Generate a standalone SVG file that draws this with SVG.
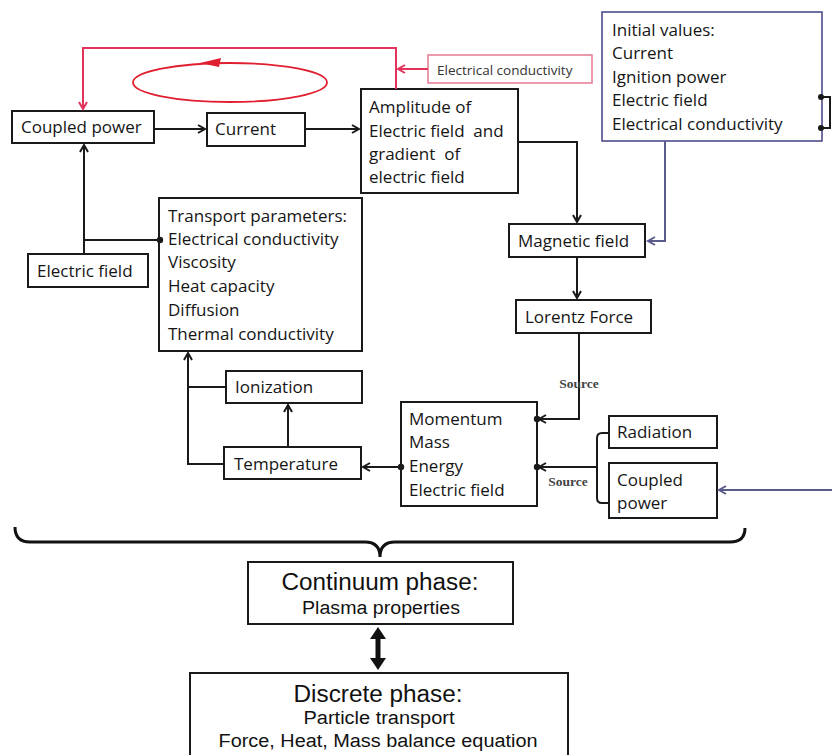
<svg xmlns="http://www.w3.org/2000/svg" width="832" height="755" viewBox="0 0 832 755">
<style>
.box{fill:#fff;stroke:#1a1a1a;stroke-width:2}
.t{font-family:"Open Sans","Liberation Sans",sans-serif;font-size:17px;fill:#151515}
.c{fill:none;stroke:#1a1a1a;stroke-width:2}
.blue{fill:none;stroke:#5a5a8c;stroke-width:2}
.red{fill:none;stroke:#e2335a;stroke-width:2}
.src{font-family:"Liberation Serif",serif;font-size:13.5px;font-weight:bold;fill:#444}
.big{font-family:"Liberation Sans",Arial,sans-serif;fill:#111;text-anchor:middle}
</style>
<defs>
<marker id="ab" markerWidth="10" markerHeight="10" refX="8" refY="5" orient="auto" markerUnits="userSpaceOnUse"><path d="M1,1 L8,5 L1,9" fill="none" stroke="#1a1a1a" stroke-width="2"/></marker>
<marker id="abl" markerWidth="10" markerHeight="10" refX="8" refY="5" orient="auto" markerUnits="userSpaceOnUse"><path d="M1,1 L8,5 L1,9" fill="none" stroke="#5a5a8c" stroke-width="2"/></marker>
<marker id="ar" markerWidth="10" markerHeight="10" refX="8" refY="5" orient="auto" markerUnits="userSpaceOnUse"><path d="M1,1 L8,5 L1,9" fill="none" stroke="#e2335a" stroke-width="2"/></marker>
</defs>
<rect width="832" height="755" fill="#fff"/>

<g id="n-coupled-power">
<rect class="box" x="12" y="111" width="142" height="32"/>
<text class="t" x="21" y="133">Coupled power</text>
</g>
<g id="n-current">
<rect class="box" x="207" y="113" width="98" height="33"/>
<text class="t" x="215" y="135">Current</text>
</g>
<g id="n-amplitude">
<rect class="box" x="361" y="89" width="157" height="104"/>
<text class="t" x="369" y="113">Amplitude of</text>
<text class="t" x="369" y="137" xml:space="preserve">Electric field  and</text>
<text class="t" x="369" y="160" xml:space="preserve">gradient  of</text>
<text class="t" x="369" y="183">electric field</text>
</g>
<g id="n-red-conductivity">
<rect x="428" y="55" width="164" height="28" fill="#fff" stroke="#e57a92" stroke-width="1.5"/>
<text x="437" y="75" font-family="Open Sans, Liberation Sans, sans-serif" font-size="13.5" fill="#333">Electrical conductivity</text>
</g>
<g id="n-initial-values">
<rect x="602" y="12" width="220" height="129" fill="#fff" stroke="#4b4b8c" stroke-width="1.6"/>
<text class="t" x="612" y="36">Initial values:</text>
<text class="t" x="612" y="59">Current</text>
<text class="t" x="612" y="83">Ignition power</text>
<text class="t" x="612" y="106">Electric field</text>
<text class="t" x="612" y="130">Electrical conductivity</text>
</g>
<g id="n-electric-field">
<rect class="box" x="28" y="254" width="120" height="33"/>
<text class="t" x="37" y="277">Electric field</text>
</g>
<g id="n-transport">
<rect class="box" x="159" y="198" width="203" height="153"/>
<text class="t" x="168" y="222">Transport parameters:</text>
<text class="t" x="168" y="245">Electrical conductivity</text>
<text class="t" x="168" y="268">Viscosity</text>
<text class="t" x="168" y="292">Heat capacity</text>
<text class="t" x="168" y="316">Diffusion</text>
<text class="t" x="168" y="340">Thermal conductivity</text>
</g>
<g id="n-ionization">
<rect class="box" x="226" y="371" width="136" height="32"/>
<text class="t" x="235" y="393">Ionization</text>
</g>
<g id="n-temperature">
<rect class="box" x="224" y="447" width="137" height="32"/>
<text class="t" x="234" y="470">Temperature</text>
</g>
<g id="n-magnetic">
<rect class="box" x="509" y="224" width="136" height="33"/>
<text class="t" x="518" y="247">Magnetic field</text>
</g>
<g id="n-lorentz">
<rect class="box" x="516" y="300" width="135" height="33"/>
<text class="t" x="525" y="323">Lorentz Force</text>
</g>
<g id="n-momentum">
<rect class="box" x="401" y="402" width="136" height="104"/>
<text class="t" x="409" y="425">Momentum</text>
<text class="t" x="409" y="448">Mass</text>
<text class="t" x="409" y="472">Energy</text>
<text class="t" x="409" y="496">Electric field</text>
</g>
<g id="n-radiation">
<rect class="box" x="609" y="416" width="108" height="32"/>
<text class="t" x="617" y="438">Radiation</text>
</g>
<g id="n-coupled-power-2">
<rect class="box" x="609" y="463" width="108" height="55"/>
<text class="t" x="617" y="486">Coupled</text>
<text class="t" x="617" y="509">power</text>
</g>
<g id="n-continuum">
<rect class="box" x="248" y="562" width="265" height="62"/>
<text class="big" x="380" y="590" font-size="23" textLength="197" lengthAdjust="spacingAndGlyphs">Continuum phase:</text>
<text class="big" x="381" y="614" font-size="18" textLength="158" lengthAdjust="spacingAndGlyphs">Plasma properties</text>
</g>
<g id="n-discrete">
<rect class="box" x="190" y="673" width="378" height="90"/>
<text class="big" x="378" y="702" font-size="23" textLength="169" lengthAdjust="spacingAndGlyphs">Discrete phase:</text>
<text class="big" x="379" y="724" font-size="18" textLength="151" lengthAdjust="spacingAndGlyphs">Particle transport</text>
<text class="big" x="378" y="747" font-size="18" textLength="319" lengthAdjust="spacingAndGlyphs">Force, Heat, Mass balance equation</text>
</g>

<g id="connectors">
<polyline class="red" points="396,89 396,48 83,48 83,109" marker-end="url(#ar)"/>
<line class="red" x1="428" y1="69" x2="398" y2="69" marker-end="url(#ar)"/>
<ellipse cx="230" cy="82.5" rx="97" ry="19.5" fill="none" stroke="#e02030" stroke-width="1.8"/>
<polygon points="200,63 221,58 219,67" fill="#e02030"/>
<line class="c" x1="155" y1="129" x2="205" y2="129" marker-end="url(#ab)"/>
<line class="c" x1="305" y1="129" x2="359" y2="129" marker-end="url(#ab)"/>
<polyline class="c" points="518,142 577,142 577,222" marker-end="url(#ab)"/>
<line class="c" x1="577" y1="257" x2="577" y2="298" marker-end="url(#ab)"/>
<polyline class="c" points="579,333 579,419 539,419" marker-end="url(#ab)"/>
<path class="c" d="M609,433 L602,433 Q597,433 597,438 L597,498 Q597,503 602,503 L609,503"/>
<line class="c" x1="597" y1="467" x2="539" y2="467" marker-end="url(#ab)"/>
<line class="c" x1="401" y1="467" x2="363" y2="467" marker-end="url(#ab)"/>
<line class="c" x1="288" y1="447" x2="288" y2="405" marker-end="url(#ab)"/>
<polyline class="c" points="224,464 188,464 188,353" marker-end="url(#ab)"/>
<line class="c" x1="226" y1="387" x2="188" y2="387"/>
<line class="c" x1="84" y1="254" x2="84" y2="145" marker-end="url(#ab)"/>
<line class="c" x1="84" y1="240" x2="160" y2="240"/>
<circle cx="160" cy="240" r="3.2" fill="#1a1a1a"/>
<circle cx="537" cy="419" r="3.2" fill="#1a1a1a"/>
<circle cx="537" cy="467" r="3.2" fill="#1a1a1a"/>
<circle cx="401" cy="467" r="3.2" fill="#1a1a1a"/>
<polyline class="blue" points="665,141 665,241 648,241" marker-end="url(#abl)"/>
<line class="blue" x1="832" y1="490" x2="719" y2="490" marker-end="url(#abl)"/>
<polyline class="c" points="821,97 830,97 830,128 821,128" stroke-width="1.6"/>
<circle cx="821" cy="97" r="3" fill="#1a1a1a"/>
<circle cx="821" cy="128" r="3" fill="#1a1a1a"/>
<text class="src" x="579" y="388" text-anchor="middle">Source</text>
<text class="src" x="568" y="486" text-anchor="middle">Source</text>
<path d="M15,527 Q15,542 30,542 L365,542 Q380,542 380,557 Q380,542 395,542 L730,542 Q745,542 745,528" fill="none" stroke="#111" stroke-width="3"/>
<line x1="378" y1="636" x2="378" y2="661" stroke="#111" stroke-width="5"/>
<polygon points="378,627 370,639 386,639" fill="#111"/>
<polygon points="378,670 370,658 386,658" fill="#111"/>
</g>
</svg>
